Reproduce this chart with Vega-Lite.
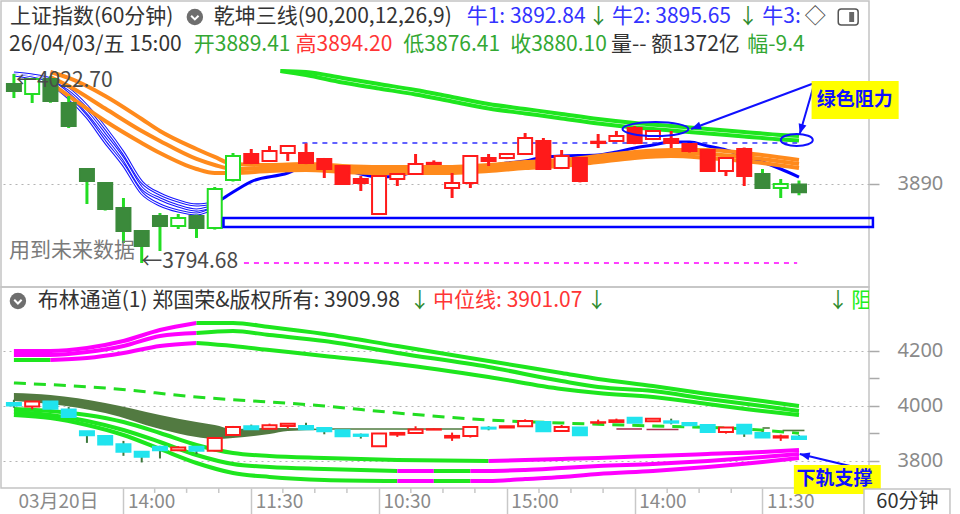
{
"$schema": "https://vega.github.io/schema/vega-lite/v6.json",
"padding": 0,
"spacing": 0,
"bounds": "flush",
"background": "white",
"config": {
 "view": {"stroke": "#c4c4c4", "strokeWidth": 1.5},
 "font": "Noto Sans CJK SC",
 "axisRight": {"grid": true, "gridColor": "#b4b4b4", "gridDash": [2, 4], "gridWidth": 1.2, "domain": false, "tickSize": 10, "tickColor": "#aaaaaa", "tickWidth": 1.5, "labelPadding": 18, "labelColor": "#8a8a8a", "labelFontSize": 20, "labelFont": "Noto Sans"},
 "axisBottom": {"labelAlign": "left", "labelOffset": 4, "labelBaseline": "middle", "labelPadding": -14, "labelFlush": false, "labelOverlap": false, "labelBound": false, "tickSize": 27, "tickWidth": 1.5, "domain": false, "grid": false, "labelColor": "#8a8a8a", "labelFontSize": 19, "labelFont": "Noto Sans CJK SC"}
},
"resolve": {"scale": {"x": "independent", "y": "independent", "color": "independent"}, "axis": {"x": "independent", "y": "independent"}},
"datasets": {
"candles": [
{"i":0,"o":4010.6,"h":4022.7,"l":3993.7,"c":4002.2,"sig":"bear"},
{"i":1,"o":3998.5,"h":4018.0,"l":3987.7,"c":4016.6,"sig":"bear"},
{"i":2,"o":4016.6,"h":4020.0,"l":3988.0,"c":3990.1,"sig":"bear"},
{"i":3,"o":3987.7,"h":3996.0,"l":3957.5,"c":3960.0,"sig":"bear"},
{"i":4,"o":3908.0,"h":3909.0,"l":3865.9,"c":3893.6,"sig":"bear"},
{"i":5,"o":3891.2,"h":3892.0,"l":3858.0,"c":3859.8,"sig":"bear"},
{"i":6,"o":3861.0,"h":3873.1,"l":3818.8,"c":3833.3,"sig":"bear"},
{"i":7,"o":3833.3,"h":3834.0,"l":3794.68,"c":3815.2,"sig":"bear"},
{"i":8,"o":3851.4,"h":3855.0,"l":3809.2,"c":3839.3,"sig":"bear"},
{"i":9,"o":3839.3,"h":3853.8,"l":3835.7,"c":3849.0,"sig":"bear"},
{"i":10,"o":3851.4,"h":3853.0,"l":3824.9,"c":3836.9,"sig":"bear"},
{"i":11,"o":3836.9,"h":3886.4,"l":3835.0,"c":3884.0,"sig":"bear"},
{"i":12,"o":3894.8,"h":3927.4,"l":3893.0,"c":3923.8,"sig":"bear"},
{"i":13,"o":3926.2,"h":3932.2,"l":3914.0,"c":3915.3,"sig":"bull"},
{"i":14,"o":3917.7,"h":3935.8,"l":3917.0,"c":3929.8,"sig":"bull"},
{"i":15,"o":3927.4,"h":3936.5,"l":3917.7,"c":3935.8,"sig":"bull"},
{"i":16,"o":3927.4,"h":3939.0,"l":3914.0,"c":3915.3,"sig":"bull"},
{"i":17,"o":3920.2,"h":3921.4,"l":3897.2,"c":3908.1,"sig":"bull"},
{"i":18,"o":3911.7,"h":3912.0,"l":3889.0,"c":3890.0,"sig":"bull"},
{"i":19,"o":3896.0,"h":3899.6,"l":3881.6,"c":3891.2,"sig":"bull"},
{"i":20,"o":3853.8,"h":3900.0,"l":3853.0,"c":3899.6,"sig":"bull"},
{"i":21,"o":3896.0,"h":3902.5,"l":3887.6,"c":3902.0,"sig":"bull"},
{"i":22,"o":3902.0,"h":3926.2,"l":3901.0,"c":3914.1,"sig":"bull"},
{"i":23,"o":3914.1,"h":3918.5,"l":3913.0,"c":3915.5,"sig":"bull"},
{"i":24,"o":3885.2,"h":3903.3,"l":3873.1,"c":3891.2,"sig":"bull"},
{"i":25,"o":3891.2,"h":3924.5,"l":3885.2,"c":3923.8,"sig":"bull"},
{"i":26,"o":3921.4,"h":3926.2,"l":3911.7,"c":3917.7,"sig":"bull"},
{"i":27,"o":3921.4,"h":3927.0,"l":3920.0,"c":3926.2,"sig":"bull"},
{"i":28,"o":3926.2,"h":3951.5,"l":3925.0,"c":3945.5,"sig":"bull"},
{"i":29,"o":3941.9,"h":3945.5,"l":3907.0,"c":3908.1,"sig":"bull"},
{"i":30,"o":3909.3,"h":3931.0,"l":3908.0,"c":3923.8,"sig":"bull"},
{"i":31,"o":3921.4,"h":3922.0,"l":3892.0,"c":3893.6,"sig":"bull"},
{"i":32,"o":3939.4,"h":3950.3,"l":3933.4,"c":3941.0,"sig":"bull"},
{"i":33,"o":3941.9,"h":3954.0,"l":3941.0,"c":3947.9,"sig":"bull"},
{"i":34,"o":3957.5,"h":3960.0,"l":3938.0,"c":3939.4,"sig":"bull"},
{"i":35,"o":3944.3,"h":3955.0,"l":3943.0,"c":3953.9,"sig":"bull"},
{"i":36,"o":3944.3,"h":3953.9,"l":3933.4,"c":3939.4,"sig":"bull"},
{"i":37,"o":3938.2,"h":3939.0,"l":3928.0,"c":3929.8,"sig":"bull"},
{"i":38,"o":3931.0,"h":3932.0,"l":3905.0,"c":3905.7,"sig":"bull"},
{"i":39,"o":3905.7,"h":3922.0,"l":3899.6,"c":3921.4,"sig":"bull"},
{"i":40,"o":3932.2,"h":3934.0,"l":3887.6,"c":3899.6,"sig":"bull"},
{"i":41,"o":3902.0,"h":3908.1,"l":3884.0,"c":3885.2,"sig":"bear"},
{"i":42,"o":3885.2,"h":3896.0,"l":3873.1,"c":3890.0,"sig":"bear"},
{"i":43,"o":3889.41,"h":3894.20,"l":3876.41,"c":3880.10,"sig":"bear"}
],
"orange": [
{"s":"o1","i":2,"v":4025.1},{"s":"o1","i":3,"v":4017.9},{"s":"o1","i":5,"v":3996.2},{"s":"o1","i":7,"v":3968.4},{"s":"o1","i":8,"v":3953.9},{"s":"o1","i":10,"v":3932.2},{"s":"o1","i":11,"v":3922.6},{"s":"o1","i":12,"v":3914.1},{"s":"o1","i":14,"v":3912.9},{"s":"o1","i":16,"v":3914.1},{"s":"o1","i":18,"v":3911.7},{"s":"o1","i":20,"v":3910.5},{"s":"o1","i":22,"v":3910.5},{"s":"o1","i":24,"v":3910.5},{"s":"o1","i":26,"v":3912.9},{"s":"o1","i":28,"v":3916.5},{"s":"o1","i":30,"v":3919.0},{"s":"o1","i":32,"v":3923.8},{"s":"o1","i":34,"v":3928.6},{"s":"o1","i":36,"v":3931.0},{"s":"o1","i":38,"v":3931.0},{"s":"o1","i":40,"v":3927.4},{"s":"o1","i":43,"v":3919.0},
{"s":"o2","i":2,"v":4019.1},{"s":"o2","i":3,"v":4008.2},{"s":"o2","i":5,"v":3981.0},{"s":"o2","i":7,"v":3953.9},{"s":"o2","i":8,"v":3941.9},{"s":"o2","i":10,"v":3920.2},{"s":"o2","i":11,"v":3912.9},{"s":"o2","i":12,"v":3908.1},{"s":"o2","i":14,"v":3909.3},{"s":"o2","i":16,"v":3910.5},{"s":"o2","i":18,"v":3908.1},{"s":"o2","i":20,"v":3906.9},{"s":"o2","i":22,"v":3906.9},{"s":"o2","i":24,"v":3906.9},{"s":"o2","i":26,"v":3909.3},{"s":"o2","i":28,"v":3912.9},{"s":"o2","i":30,"v":3915.3},{"s":"o2","i":32,"v":3920.2},{"s":"o2","i":34,"v":3925.0},{"s":"o2","i":36,"v":3927.4},{"s":"o2","i":38,"v":3926.2},{"s":"o2","i":40,"v":3922.6},{"s":"o2","i":43,"v":3914.1},
{"s":"o3","i":2,"v":4011.8},{"s":"o3","i":3,"v":3996.2},{"s":"o3","i":5,"v":3966.0},{"s":"o3","i":7,"v":3939.5},{"s":"o3","i":8,"v":3927.4},{"s":"o3","i":10,"v":3908.1},{"s":"o3","i":11,"v":3903.3},{"s":"o3","i":12,"v":3903.3},{"s":"o3","i":14,"v":3905.7},{"s":"o3","i":16,"v":3906.9},{"s":"o3","i":18,"v":3904.5},{"s":"o3","i":20,"v":3903.3},{"s":"o3","i":22,"v":3903.3},{"s":"o3","i":24,"v":3903.3},{"s":"o3","i":26,"v":3905.7},{"s":"o3","i":28,"v":3909.3},{"s":"o3","i":30,"v":3911.7},{"s":"o3","i":32,"v":3916.5},{"s":"o3","i":34,"v":3921.4},{"s":"o3","i":36,"v":3923.8},{"s":"o3","i":38,"v":3921.4},{"s":"o3","i":40,"v":3917.7},{"s":"o3","i":43,"v":3909.3}
],
"bthin": [
{"s":"b1","i":0,"v":4023.9},{"s":"b1","i":1,"v":4021.5},{"s":"b1","i":2,"v":4016.7},{"s":"b1","i":3,"v":4004.6},{"s":"b1","i":4,"v":3984.1},{"s":"b1","i":5,"v":3957.6},{"s":"b1","i":6,"v":3927.4},{"s":"b1","i":7,"v":3892.4},{"s":"b1","i":8,"v":3877.9},{"s":"b1","i":9,"v":3869.5},{"s":"b1","i":10,"v":3864.7},{"s":"b1","i":10.6,"v":3865.9},
{"s":"b2","i":0,"v":4022.7},{"s":"b2","i":1,"v":4020.3},{"s":"b2","i":2,"v":4014.2},{"s":"b2","i":3,"v":3998.6},{"s":"b2","i":4,"v":3976.9},{"s":"b2","i":5,"v":3949.1},{"s":"b2","i":6,"v":3920.2},{"s":"b2","i":7,"v":3885.2},{"s":"b2","i":8,"v":3871.9},{"s":"b2","i":9,"v":3863.5},{"s":"b2","i":10,"v":3858.6},{"s":"b2","i":10.6,"v":3861.0},
{"s":"b3","i":0,"v":4021.5},{"s":"b3","i":1,"v":4017.9},{"s":"b3","i":2,"v":4010.6},{"s":"b3","i":3,"v":3993.7},{"s":"b3","i":4,"v":3970.8},{"s":"b3","i":5,"v":3940.7},{"s":"b3","i":6,"v":3912.9},{"s":"b3","i":7,"v":3879.1},{"s":"b3","i":8,"v":3864.7},{"s":"b3","i":9,"v":3857.4},{"s":"b3","i":10,"v":3853.8},{"s":"b3","i":10.6,"v":3857.4}
],
"bthick": [
{"i":10.6,"v":3861.0},{"i":11.5,"v":3873.1},{"i":13,"v":3893.0},{"i":15,"v":3903.3},{"i":16,"v":3912.0},{"i":17,"v":3913.5},{"i":18,"v":3908.1},{"i":19,"v":3902.1},{"i":20,"v":3898.4},{"i":21,"v":3899.7},{"i":22,"v":3904.5},{"i":24,"v":3905.7},{"i":26,"v":3911.7},{"i":27,"v":3915.3},{"i":28,"v":3917.7},{"i":29,"v":3922.6},{"i":30,"v":3923.8},{"i":32,"v":3925.0},{"i":33,"v":3928.6},{"i":34,"v":3933.4},{"i":35,"v":3937.0},{"i":36,"v":3940.7},{"i":37,"v":3940.7},{"i":38,"v":3935.8},{"i":39,"v":3931.0},{"i":40,"v":3923.8},{"i":41,"v":3916.5},{"i":42,"v":3908.1},{"i":43,"v":3898.4}
],
"gband": [
{"s":"g1","i":14.6,"v":4026.3},{"s":"g1","i":16,"v":4025.1},{"s":"g1","i":18,"v":4017.9},{"s":"g1","i":20,"v":4010.6},{"s":"g1","i":22,"v":4003.4},{"s":"g1","i":24,"v":3995.0},{"s":"g1","i":26,"v":3986.5},{"s":"g1","i":28,"v":3980.5},{"s":"g1","i":30,"v":3974.5},{"s":"g1","i":32,"v":3968.4},{"s":"g1","i":34,"v":3963.6},{"s":"g1","i":36,"v":3960.0},{"s":"g1","i":38,"v":3956.3},{"s":"g1","i":40,"v":3952.7},{"s":"g1","i":42,"v":3949.1},{"s":"g1","i":43,"v":3947.9},
{"s":"g2","i":14.6,"v":4026.3},{"s":"g2","i":16,"v":4021.5},{"s":"g2","i":18,"v":4012.5},{"s":"g2","i":20,"v":4005.2},{"s":"g2","i":22,"v":3998.0},{"s":"g2","i":24,"v":3989.6},{"s":"g2","i":26,"v":3981.1},{"s":"g2","i":28,"v":3975.1},{"s":"g2","i":30,"v":3969.1},{"s":"g2","i":32,"v":3963.0},{"s":"g2","i":34,"v":3958.2},{"s":"g2","i":36,"v":3954.6},{"s":"g2","i":38,"v":3950.9},{"s":"g2","i":40,"v":3947.3},{"s":"g2","i":42,"v":3943.7},{"s":"g2","i":43,"v":3942.5}
],
"upper": [
{"s":"u1a","c":"m","i":0,"v":4200.0},{"s":"u1a","c":"m","i":2,"v":4200.0},{"s":"u1a","c":"m","i":4,"v":4210.9},{"s":"u1a","c":"m","i":6,"v":4236.3},{"s":"u1a","c":"m","i":8,"v":4276.3},{"s":"u1a","c":"m","i":10,"v":4301.8},
{"s":"u1b","c":"g","i":10,"v":4301.8},{"s":"u1b","c":"g","i":12,"v":4301.8},{"s":"u1b","c":"g","i":14,"v":4287.2},{"s":"u1b","c":"g","i":17,"v":4261.8},{"s":"u1b","c":"g","i":21,"v":4218.1},{"s":"u1b","c":"g","i":26,"v":4163.6},{"s":"u1b","c":"g","i":30,"v":4120.0},{"s":"u1b","c":"g","i":32,"v":4098.2},{"s":"u1b","c":"g","i":35,"v":4072.7},{"s":"u1b","c":"g","i":38,"v":4043.6},{"s":"u1b","c":"g","i":41,"v":4018.2},{"s":"u1b","c":"g","i":43,"v":4000.0},
{"s":"u2a","c":"m","i":0,"v":4185.4},{"s":"u2a","c":"m","i":2,"v":4185.4},{"s":"u2a","c":"m","i":4,"v":4196.3},{"s":"u2a","c":"m","i":6,"v":4218.1},{"s":"u2a","c":"m","i":8,"v":4254.5},{"s":"u2a","c":"m","i":10,"v":4265.4},
{"s":"u2b","c":"g","i":10,"v":4265.4},{"s":"u2b","c":"g","i":12,"v":4272.7},{"s":"u2b","c":"g","i":14,"v":4258.1},{"s":"u2b","c":"g","i":17,"v":4236.3},{"s":"u2b","c":"g","i":21,"v":4192.7},{"s":"u2b","c":"g","i":26,"v":4141.8},{"s":"u2b","c":"g","i":30,"v":4090.9},{"s":"u2b","c":"g","i":32,"v":4069.1},{"s":"u2b","c":"g","i":35,"v":4054.5},{"s":"u2b","c":"g","i":38,"v":4025.4},{"s":"u2b","c":"g","i":41,"v":4000.0},{"s":"u2b","c":"g","i":43,"v":3981.8},
{"s":"u3a","c":"g","i":0,"v":4167.2},{"s":"u3a","c":"g","i":2,"v":4167.2},
{"s":"u3b","c":"m","i":2,"v":4167.2},{"s":"u3b","c":"m","i":4,"v":4174.5},{"s":"u3b","c":"m","i":6,"v":4192.7},{"s":"u3b","c":"m","i":8,"v":4218.1},{"s":"u3b","c":"m","i":10,"v":4229.0},
{"s":"u3c","c":"g","i":10,"v":4229.0},{"s":"u3c","c":"g","i":12,"v":4218.1},{"s":"u3c","c":"g","i":14,"v":4203.6},{"s":"u3c","c":"g","i":17,"v":4181.8},{"s":"u3c","c":"g","i":21,"v":4152.7},{"s":"u3c","c":"g","i":26,"v":4105.4},{"s":"u3c","c":"g","i":30,"v":4061.8},{"s":"u3c","c":"g","i":32,"v":4047.2},{"s":"u3c","c":"g","i":35,"v":4032.7},{"s":"u3c","c":"g","i":38,"v":4007.3},{"s":"u3c","c":"g","i":41,"v":3981.8},{"s":"u3c","c":"g","i":43,"v":3967.3}
],
"lower": [
{"s":"l1a","c":"g","i":0,"v":3989.1},{"s":"l1a","c":"g","i":2,"v":3981.8},{"s":"l1a","c":"g","i":4,"v":3967.3},{"s":"l1a","c":"g","i":6,"v":3941.8},{"s":"l1a","c":"g","i":8,"v":3901.8},{"s":"l1a","c":"g","i":10,"v":3858.2},{"s":"l1a","c":"g","i":12,"v":3829.1},{"s":"l1a","c":"g","i":14,"v":3818.2},{"s":"l1a","c":"g","i":17,"v":3810.9},{"s":"l1a","c":"g","i":21,"v":3803.6},{"s":"l1a","c":"g","i":26,"v":3800.0},
{"s":"l1b","c":"m","i":26,"v":3800.0},{"s":"l1b","c":"m","i":28,"v":3803.6},{"s":"l1b","c":"m","i":30,"v":3807.3},{"s":"l1b","c":"m","i":32,"v":3810.9},{"s":"l1b","c":"m","i":35,"v":3818.2},{"s":"l1b","c":"m","i":38,"v":3825.5},{"s":"l1b","c":"m","i":41,"v":3832.7},{"s":"l1b","c":"m","i":43,"v":3840.0},
{"s":"l2a","c":"g","i":0,"v":3978.2},{"s":"l2a","c":"g","i":2,"v":3967.3},{"s":"l2a","c":"g","i":4,"v":3945.4},{"s":"l2a","c":"g","i":6,"v":3912.7},{"s":"l2a","c":"g","i":8,"v":3869.1},{"s":"l2a","c":"g","i":10,"v":3821.8},{"s":"l2a","c":"g","i":12,"v":3789.1},{"s":"l2a","c":"g","i":14,"v":3778.2},{"s":"l2a","c":"g","i":17,"v":3770.9},{"s":"l2a","c":"g","i":21,"v":3763.6},
{"s":"l2b","c":"m","i":21,"v":3763.6},{"s":"l2b","c":"m","i":23,"v":3763.6},
{"s":"l2c","c":"g","i":23,"v":3763.6},{"s":"l2c","c":"g","i":25,"v":3763.6},
{"s":"l2d","c":"m","i":25,"v":3763.6},{"s":"l2d","c":"m","i":26,"v":3763.6},{"s":"l2d","c":"m","i":28,"v":3767.3},{"s":"l2d","c":"m","i":30,"v":3774.5},{"s":"l2d","c":"m","i":32,"v":3781.8},{"s":"l2d","c":"m","i":35,"v":3789.1},{"s":"l2d","c":"m","i":38,"v":3800.0},{"s":"l2d","c":"m","i":41,"v":3814.5},{"s":"l2d","c":"m","i":43,"v":3825.5},
{"s":"l3a","c":"g","i":0,"v":3967.3},{"s":"l3a","c":"g","i":2,"v":3956.3},{"s":"l3a","c":"g","i":4,"v":3930.9},{"s":"l3a","c":"g","i":6,"v":3894.5},{"s":"l3a","c":"g","i":8,"v":3843.6},{"s":"l3a","c":"g","i":10,"v":3792.7},{"s":"l3a","c":"g","i":12,"v":3756.4},{"s":"l3a","c":"g","i":14,"v":3741.8},{"s":"l3a","c":"g","i":17,"v":3730.9},{"s":"l3a","c":"g","i":21,"v":3727.3},
{"s":"l3b","c":"m","i":21,"v":3727.3},{"s":"l3b","c":"m","i":23,"v":3727.3},
{"s":"l3c","c":"g","i":23,"v":3727.3},{"s":"l3c","c":"g","i":25,"v":3727.3},
{"s":"l3d","c":"m","i":25,"v":3727.3},{"s":"l3d","c":"m","i":26,"v":3727.3},{"s":"l3d","c":"m","i":28,"v":3734.5},{"s":"l3d","c":"m","i":30,"v":3741.8},{"s":"l3d","c":"m","i":32,"v":3752.7},{"s":"l3d","c":"m","i":35,"v":3763.6},{"s":"l3d","c":"m","i":38,"v":3778.2},{"s":"l3d","c":"m","i":41,"v":3796.4},{"s":"l3d","c":"m","i":43,"v":3810.9}
],
"mid": [
{"i":0,"v":4083.6},{"i":5,"v":4065.4},{"i":10,"v":4032.7},{"i":17,"v":4000.0},{"i":21,"v":3974.5},{"i":26,"v":3949.1},{"i":30,"v":3938.2},{"i":35,"v":3927.3},{"i":40,"v":3916.4},{"i":43,"v":3901.0}
],
"ribbon": [
{"i":0,"hi":4047.2,"lo":4018.2},{"i":2,"hi":4040.0,"lo":4007.3},{"i":5,"hi":4010.9,"lo":3974.5},{"i":8,"hi":3967.3,"lo":3916.4},{"i":10,"hi":3941.8,"lo":3887.3},{"i":11,"hi":3930.9,"lo":3880.0},{"i":12,"hi":3916.4,"lo":3883.6},{"i":14,"hi":3920.0,"lo":3898.2},{"i":15,"hi":3920.0,"lo":3909.1},{"i":17,"hi":3916.4,"lo":3912.7}
],
"minorticks": [
{"i":7.71},{"i":9.46},{"i":11.22},{"i":14.73},{"i":16.48},{"i":18.24},{"i":21.74},{"i":23.50},{"i":25.25},{"i":28.76},{"i":30.51},{"i":32.27},{"i":35.78},{"i":37.53},{"i":39.29},{"i":42.79},{"i":44.55}
]
},
"vconcat": [
{
"width": 868, "height": 286,
"layer": [
{"data": {"name": "gband"}, "mark": {"type": "line", "color": "#1ee61e", "strokeWidth": 4, "interpolate": "monotone"},
 "encoding": {"x": {"field": "i", "type": "quantitative", "scale": {"domain": [-0.4331, 46.561], "nice": false, "zero": false}, "axis": null},
  "y": {"field": "v", "type": "quantitative", "scale": {"domain": [3765.75, 4110.75], "nice": false, "zero": false}, "axis": {"orient": "right", "values": [3890], "format": "d", "title": null}},
  "detail": {"field": "s"}}},
{"data": {"name": "bthin"}, "mark": {"type": "line", "color": "#1414ff", "strokeWidth": 3.2, "interpolate": "monotone"},
 "encoding": {"x": {"field": "i", "type": "quantitative", "scale": {"domain": [-0.4331, 46.561], "nice": false, "zero": false}, "axis": null},
  "y": {"field": "v", "type": "quantitative", "scale": {"domain": [3765.75, 4110.75], "nice": false, "zero": false}, "axis": {"orient": "right", "values": [3890], "format": "d", "title": null}}, "detail": {"field": "s"}}},
{"data": {"name": "bthin"}, "mark": {"type": "line", "color": "#ffffff", "strokeWidth": 1.1, "interpolate": "monotone"},
 "encoding": {"x": {"field": "i", "type": "quantitative", "scale": {"domain": [-0.4331, 46.561], "nice": false, "zero": false}, "axis": null},
  "y": {"field": "v", "type": "quantitative", "scale": {"domain": [3765.75, 4110.75], "nice": false, "zero": false}, "axis": {"orient": "right", "values": [3890], "format": "d", "title": null}}, "detail": {"field": "s"}}},
{"data": {"name": "bthick"}, "mark": {"type": "line", "color": "#0000ff", "strokeWidth": 3, "interpolate": "monotone"},
 "encoding": {"x": {"field": "i", "type": "quantitative", "scale": {"domain": [-0.4331, 46.561], "nice": false, "zero": false}, "axis": null},
  "y": {"field": "v", "type": "quantitative", "scale": {"domain": [3765.75, 4110.75], "nice": false, "zero": false}, "axis": {"orient": "right", "values": [3890], "format": "d", "title": null}}}},
{"data": {"name": "orange"}, "mark": {"type": "line", "color": "#ff8a1c", "strokeWidth": 4, "interpolate": "monotone"},
 "encoding": {"x": {"field": "i", "type": "quantitative", "scale": {"domain": [-0.4331, 46.561], "nice": false, "zero": false}, "axis": null},
  "y": {"field": "v", "type": "quantitative", "scale": {"domain": [3765.75, 4110.75], "nice": false, "zero": false}, "axis": {"orient": "right", "values": [3890], "format": "d", "title": null}}, "detail": {"field": "s"}}},
{"data": {"values": [{"i": 15.8, "i2": 42.9, "v": 3939.4}]}, "mark": {"type": "rule", "color": "#3030ff", "strokeWidth": 1.6, "strokeDash": [5, 5]},
 "encoding": {"x": {"field": "i", "type": "quantitative", "scale": {"domain": [-0.4331, 46.561], "nice": false, "zero": false}, "axis": null}, "x2": {"field": "i2"},
  "y": {"field": "v", "type": "quantitative", "scale": {"domain": [3765.75, 4110.75], "nice": false, "zero": false}, "axis": {"orient": "right", "values": [3890], "format": "d", "title": null}}}},
{"data": {"values": [{"i": 12.6, "i2": 42.9, "v": 3794.7}]}, "mark": {"type": "rule", "color": "#ff00ff", "strokeWidth": 1.6, "strokeDash": [5, 5]},
 "encoding": {"x": {"field": "i", "type": "quantitative", "scale": {"domain": [-0.4331, 46.561], "nice": false, "zero": false}, "axis": null}, "x2": {"field": "i2"},
  "y": {"field": "v", "type": "quantitative", "scale": {"domain": [3765.75, 4110.75], "nice": false, "zero": false}, "axis": {"orient": "right", "values": [3890], "format": "d", "title": null}}}},
{"data": {"name": "candles"}, "mark": {"type": "rule", "strokeWidth": 3},
 "encoding": {"x": {"field": "i", "type": "quantitative", "scale": {"domain": [-0.4331, 46.561], "nice": false, "zero": false}, "axis": null},
  "y": {"field": "l", "type": "quantitative", "scale": {"domain": [3765.75, 4110.75], "nice": false, "zero": false}, "axis": {"orient": "right", "values": [3890], "format": "d", "title": null}}, "y2": {"field": "h"},
  "color": {"condition": {"test": "datum.sig == 'bear'", "value": "#22dd22"}, "value": "#ff1a1a"}}},
{"data": {"name": "candles"}, "mark": {"type": "bar", "size": 14, "strokeWidth": 2},
 "encoding": {"x": {"field": "i", "type": "quantitative", "scale": {"domain": [-0.4331, 46.561], "nice": false, "zero": false}, "axis": null},
  "y": {"field": "o", "type": "quantitative", "scale": {"domain": [3765.75, 4110.75], "nice": false, "zero": false}, "axis": {"orient": "right", "values": [3890], "format": "d", "title": null}}, "y2": {"field": "c"},
  "fill": {"condition": [{"test": "datum.c >= datum.o", "value": "#ffffff"}, {"test": "datum.sig == 'bear'", "value": "#3b8a3b"}], "value": "#ff1a1a"},
  "stroke": {"condition": [{"test": "datum.sig == 'bear' && datum.c < datum.o", "value": "#3b8a3b"}, {"test": "datum.sig == 'bear'", "value": "#22dd22"}], "value": "#ff1a1a"}}},
{"data": {"values": [{"i": 11.48, "i2": 47.05, "v": 3849.0, "v2": 3838.1}]}, "mark": {"type": "rect", "fill": "transparent", "stroke": "#0000ff", "strokeWidth": 2.5},
 "encoding": {"x": {"field": "i", "type": "quantitative", "scale": {"domain": [-0.4331, 46.561], "nice": false, "zero": false}, "axis": null}, "x2": {"field": "i2"},
  "y": {"field": "v", "type": "quantitative", "scale": {"domain": [3765.75, 4110.75], "nice": false, "zero": false}, "axis": {"orient": "right", "values": [3890], "format": "d", "title": null}}, "y2": {"field": "v2"}}},
{"data": {"values": [{"i": 35.14, "v": 3956.3}]}, "mark": {"type": "point", "shape": "M -1 0 A 1 0.21 0 1 0 1 0 A 1 0.21 0 1 0 -1 0 Z", "size": 4356, "filled": false, "color": "#1010ff", "strokeWidth": 2, "opacity": 1},
 "encoding": {"x": {"field": "i", "type": "quantitative", "scale": {"domain": [-0.4331, 46.561], "nice": false, "zero": false}, "axis": null},
  "y": {"field": "v", "type": "quantitative", "scale": {"domain": [3765.75, 4110.75], "nice": false, "zero": false}, "axis": {"orient": "right", "values": [3890], "format": "d", "title": null}}}},
{"data": {"values": [{"i": 42.88, "v": 3943.1}]}, "mark": {"type": "point", "shape": "M -1 0 A 1 0.375 0 1 0 1 0 A 1 0.375 0 1 0 -1 0 Z", "size": 1024, "filled": false, "color": "#1010ff", "strokeWidth": 2, "opacity": 1},
 "encoding": {"x": {"field": "i", "type": "quantitative", "scale": {"domain": [-0.4331, 46.561], "nice": false, "zero": false}, "axis": null},
  "y": {"field": "v", "type": "quantitative", "scale": {"domain": [3765.75, 4110.75], "nice": false, "zero": false}, "axis": {"orient": "right", "values": [3890], "format": "d", "title": null}}}},
{"data": {"values": [{"i": 43.85, "v": 4011.8, "i2": 37.09, "v2": 3956.3}, {"i": 43.85, "v": 4011.8, "i2": 43.04, "v2": 3950.3}]}, "mark": {"type": "rule", "color": "#1010ff", "strokeWidth": 2},
 "encoding": {"x": {"field": "i", "type": "quantitative", "scale": {"domain": [-0.4331, 46.561], "nice": false, "zero": false}, "axis": null}, "x2": {"field": "i2"},
  "y": {"field": "v", "type": "quantitative", "scale": {"domain": [3765.75, 4110.75], "nice": false, "zero": false}, "axis": {"orient": "right", "values": [3890], "format": "d", "title": null}}, "y2": {"field": "v2"}}},
{"data": {"values": [{"i": 37.09, "v": 3956.3}]}, "mark": {"type": "point", "shape": "M0,0 L0.8,2 L-0.8,2 Z", "size": 100, "filled": true, "color": "#1010ff", "angle": 249.8, "opacity": 1},
 "encoding": {"x": {"field": "i", "type": "quantitative", "scale": {"domain": [-0.4331, 46.561], "nice": false, "zero": false}, "axis": null},
  "y": {"field": "v", "type": "quantitative", "scale": {"domain": [3765.75, 4110.75], "nice": false, "zero": false}, "axis": {"orient": "right", "values": [3890], "format": "d", "title": null}}}},
{"data": {"values": [{"i": 43.04, "v": 3950.3}]}, "mark": {"type": "point", "shape": "M0,0 L0.8,2 L-0.8,2 Z", "size": 100, "filled": true, "color": "#1010ff", "angle": 196.4, "opacity": 1},
 "encoding": {"x": {"field": "i", "type": "quantitative", "scale": {"domain": [-0.4331, 46.561], "nice": false, "zero": false}, "axis": null},
  "y": {"field": "v", "type": "quantitative", "scale": {"domain": [3765.75, 4110.75], "nice": false, "zero": false}, "axis": {"orient": "right", "values": [3890], "format": "d", "title": null}}}},
{"data": {"values": [{"i": 43.69, "i2": 48.46, "v": 4014.2, "v2": 3968.4}]}, "mark": {"type": "rect", "fill": "#ffff00"},
 "encoding": {"x": {"field": "i", "type": "quantitative", "scale": {"domain": [-0.4331, 46.561], "nice": false, "zero": false}, "axis": null}, "x2": {"field": "i2"},
  "y": {"field": "v", "type": "quantitative", "scale": {"domain": [3765.75, 4110.75], "nice": false, "zero": false}, "axis": {"orient": "right", "values": [3890], "format": "d", "title": null}}, "y2": {"field": "v2"}}},
{"data": {"values": [{"i": 46.05, "v": 3991.3, "t": "绿色阻力"}]}, "mark": {"type": "text", "align": "center", "baseline": "middle", "fontSize": 19, "fontWeight": "bold", "color": "#1010ff", "font": "Noto Sans CJK SC"},
 "encoding": {"x": {"field": "i", "type": "quantitative", "scale": {"domain": [-0.4331, 46.561], "nice": false, "zero": false}, "axis": null},
  "y": {"field": "v", "type": "quantitative", "scale": {"domain": [3765.75, 4110.75], "nice": false, "zero": false}, "axis": {"orient": "right", "values": [3890], "format": "d", "title": null}}, "text": {"field": "t"}}},
{"data": {"values": [{"i": 9.91, "v": 4091.5}]}, "mark": {"type": "point", "shape": "circle", "size": 270, "filled": true, "color": "#6e6e6e", "opacity": 1},
 "encoding": {"x": {"field": "i", "type": "quantitative", "scale": {"domain": [-0.4331, 46.561], "nice": false, "zero": false}, "axis": null},
  "y": {"field": "v", "type": "quantitative", "scale": {"domain": [3765.75, 4110.75], "nice": false, "zero": false}, "axis": {"orient": "right", "values": [3890], "format": "d", "title": null}}}},
{"data": {"values": [{"i": 9.91, "v": 4091.5}]}, "mark": {"type": "point", "shape": "M-0.45,-0.15 L0,0.3 L0.45,-0.15", "size": 270, "filled": false, "color": "#ffffff", "strokeWidth": 2, "opacity": 1},
 "encoding": {"x": {"field": "i", "type": "quantitative", "scale": {"domain": [-0.4331, 46.561], "nice": false, "zero": false}, "axis": null},
  "y": {"field": "v", "type": "quantitative", "scale": {"domain": [3765.75, 4110.75], "nice": false, "zero": false}, "axis": {"orient": "right", "values": [3890], "format": "d", "title": null}}}},
{"data": {"values": [{"i": 45.15, "i2": 46.24, "v": 4101.1, "v2": 4081.8}]}, "mark": {"type": "rect", "fill": "transparent", "stroke": "#555555", "strokeWidth": 1.5, "cornerRadius": 3},
 "encoding": {"x": {"field": "i", "type": "quantitative", "scale": {"domain": [-0.4331, 46.561], "nice": false, "zero": false}, "axis": null}, "x2": {"field": "i2"},
  "y": {"field": "v", "type": "quantitative", "scale": {"domain": [3765.75, 4110.75], "nice": false, "zero": false}, "axis": {"orient": "right", "values": [3890], "format": "d", "title": null}}, "y2": {"field": "v2"}}},
{"data": {"values": [{"i": 45.75, "i2": 46.02, "v": 4097.5, "v2": 4085.4}]}, "mark": {"type": "rect", "fill": "#666666"},
 "encoding": {"x": {"field": "i", "type": "quantitative", "scale": {"domain": [-0.4331, 46.561], "nice": false, "zero": false}, "axis": null}, "x2": {"field": "i2"},
  "y": {"field": "v", "type": "quantitative", "scale": {"domain": [3765.75, 4110.75], "nice": false, "zero": false}, "axis": {"orient": "right", "values": [3890], "format": "d", "title": null}}, "y2": {"field": "v2"}}},
{"data": {"values": [
  {"i": -0.22, "v": 4091.5, "t": "上证指数(60分钟)", "k": "dark"},
  {"i": 10.94, "v": 4091.5, "t": "乾坤三线(90,200,12,26,9)", "k": "dark"},
  {"i": 24.80, "v": 4091.5, "t": "牛1: 3892.84", "k": "blue"},
  {"i": 31.45, "v": 4091.5, "t": "↓", "k": "arrow"},
  {"i": 32.76, "v": 4091.5, "t": "牛2: 3895.65", "k": "blue"},
  {"i": 39.63, "v": 4091.5, "t": "↓", "k": "arrow"},
  {"i": 40.99, "v": 4091.5, "t": "牛3:", "k": "blue"},
  {"i": 43.31, "v": 4091.5, "t": "◇", "k": "mid"},
  {"i": -0.27, "v": 4057.7, "t": "26/04/03/五 15:00", "k": "dark"},
  {"i": 9.85, "v": 4057.7, "t": "开3889.41", "k": "green"},
  {"i": 15.43, "v": 4057.7, "t": "高3894.20", "k": "red"},
  {"i": 21.33, "v": 4057.7, "t": "低3876.41", "k": "green"},
  {"i": 27.18, "v": 4057.7, "t": "收3880.10", "k": "green"},
  {"i": 32.70, "v": 4057.7, "t": "量-- 额1372亿", "k": "dark"},
  {"i": 40.17, "v": 4057.7, "t": "幅-9.4", "k": "green"},
  {"i": 0.11, "v": 4014.2, "t": "←4022.70", "k": "mid"},
  {"i": -0.27, "v": 3809.2, "t": "用到未来数据", "k": "gray"},
  {"i": 6.98, "v": 3795.9, "t": "←3794.68", "k": "mid"}
 ]},
 "mark": {"type": "text", "align": "left", "baseline": "middle", "fontSize": 21, "font": "Noto Sans CJK SC"},
 "encoding": {"x": {"field": "i", "type": "quantitative", "scale": {"domain": [-0.4331, 46.561], "nice": false, "zero": false}, "axis": null},
  "y": {"field": "v", "type": "quantitative", "scale": {"domain": [3765.75, 4110.75], "nice": false, "zero": false}, "axis": {"orient": "right", "values": [3890], "format": "d", "title": null}},
  "text": {"field": "t"},
  "color": {"condition": [{"test": "datum.k == 'green'", "value": "#33a833"}, {"test": "datum.k == 'red'", "value": "#ff3535"}, {"test": "datum.k == 'blue'", "value": "#3333ff"}, {"test": "datum.k == 'arrow'", "value": "#2e8b2e"}, {"test": "datum.k == 'gray'", "value": "#7a7a7a"}, {"test": "datum.k == 'mid'", "value": "#4a4a4a"}], "value": "#333333"}}}
]
},
{
"width": 868, "height": 201,
"layer": [
{"data": {"name": "upper"}, "mark": {"type": "line", "strokeWidth": 4, "interpolate": "monotone"},
 "encoding": {"x": {"field": "i", "type": "quantitative", "scale": {"domain": [-0.4331, 46.561], "nice": false, "zero": false}, "axis": {"orient": "bottom", "values": [0, 6, 13, 20, 27, 34, 41], "labelExpr": "datum.value == 0 ? '03月20日' : datum.value == 6 ? '14:00' : datum.value == 13 ? '11:30' : datum.value == 20 ? '10:30' : datum.value == 27 ? '15:00' : datum.value == 34 ? '14:00' : '11:30'", "tickColor": {"condition": {"test": "datum.value == 0", "value": "transparent"}, "value": "#c8c8c8"}, "title": null}},
  "y": {"field": "v", "type": "quantitative", "scale": {"domain": [3701.8, 4432.7], "nice": false, "zero": false}, "axis": {"orient": "right", "values": [3800, 3900, 4000, 4100, 4200], "format": "d", "labelExpr": "datum.value % 200 == 0 ? datum.label : ''", "gridOpacity": {"condition": {"test": "datum.value % 200 != 0", "value": 0}, "value": 1}, "title": null}},
  "color": {"field": "c", "type": "nominal", "scale": {"domain": ["m", "g"], "range": ["#ff00ff", "#1ee61e"]}, "legend": null},
  "detail": {"field": "s"}}},
{"data": {"name": "lower"}, "mark": {"type": "line", "strokeWidth": 4, "interpolate": "monotone"},
 "encoding": {"x": {"field": "i", "type": "quantitative", "scale": {"domain": [-0.4331, 46.561], "nice": false, "zero": false}, "axis": {"orient": "bottom", "values": [0, 6, 13, 20, 27, 34, 41], "labelExpr": "datum.value == 0 ? '03月20日' : datum.value == 6 ? '14:00' : datum.value == 13 ? '11:30' : datum.value == 20 ? '10:30' : datum.value == 27 ? '15:00' : datum.value == 34 ? '14:00' : '11:30'", "tickColor": {"condition": {"test": "datum.value == 0", "value": "transparent"}, "value": "#c8c8c8"}, "title": null}},
  "y": {"field": "v", "type": "quantitative", "scale": {"domain": [3701.8, 4432.7], "nice": false, "zero": false}, "axis": {"orient": "right", "values": [3800, 3900, 4000, 4100, 4200], "format": "d", "labelExpr": "datum.value % 200 == 0 ? datum.label : ''", "gridOpacity": {"condition": {"test": "datum.value % 200 != 0", "value": 0}, "value": 1}, "title": null}},
  "color": {"field": "c", "type": "nominal", "scale": {"domain": ["m", "g"], "range": ["#ff00ff", "#1ee61e"]}, "legend": null},
  "detail": {"field": "s"}}},
{"data": {"name": "ribbon"}, "mark": {"type": "area", "color": "#527a41", "opacity": 1, "interpolate": "monotone"},
 "encoding": {"x": {"field": "i", "type": "quantitative", "scale": {"domain": [-0.4331, 46.561], "nice": false, "zero": false}, "axis": {"orient": "bottom", "values": [0, 6, 13, 20, 27, 34, 41], "labelExpr": "datum.value == 0 ? '03月20日' : datum.value == 6 ? '14:00' : datum.value == 13 ? '11:30' : datum.value == 20 ? '10:30' : datum.value == 27 ? '15:00' : datum.value == 34 ? '14:00' : '11:30'", "tickColor": {"condition": {"test": "datum.value == 0", "value": "transparent"}, "value": "#c8c8c8"}, "title": null}},
  "y": {"field": "hi", "type": "quantitative", "scale": {"domain": [3701.8, 4432.7], "nice": false, "zero": false}, "axis": {"orient": "right", "values": [3800, 3900, 4000, 4100, 4200], "format": "d", "labelExpr": "datum.value % 200 == 0 ? datum.label : ''", "gridOpacity": {"condition": {"test": "datum.value % 200 != 0", "value": 0}, "value": 1}, "title": null}}, "y2": {"field": "lo"}}},
{"data": {"name": "mid"}, "mark": {"type": "line", "color": "#22dd22", "strokeWidth": 3, "strokeDash": [12, 8], "interpolate": "monotone"},
 "encoding": {"x": {"field": "i", "type": "quantitative", "scale": {"domain": [-0.4331, 46.561], "nice": false, "zero": false}, "axis": {"orient": "bottom", "values": [0, 6, 13, 20, 27, 34, 41], "labelExpr": "datum.value == 0 ? '03月20日' : datum.value == 6 ? '14:00' : datum.value == 13 ? '11:30' : datum.value == 20 ? '10:30' : datum.value == 27 ? '15:00' : datum.value == 34 ? '14:00' : '11:30'", "tickColor": {"condition": {"test": "datum.value == 0", "value": "transparent"}, "value": "#c8c8c8"}, "title": null}},
  "y": {"field": "v", "type": "quantitative", "scale": {"domain": [3701.8, 4432.7], "nice": false, "zero": false}, "axis": {"orient": "right", "values": [3800, 3900, 4000, 4100, 4200], "format": "d", "labelExpr": "datum.value % 200 == 0 ? datum.label : ''", "gridOpacity": {"condition": {"test": "datum.value % 200 != 0", "value": 0}, "value": 1}, "title": null}}}},
{"data": {"values": [{"i": 17, "i2": 25, "v": 3916.4, "k": "dg"}, {"i": 33.0, "i2": 34.4, "v": 3916.4, "k": "dr"}, {"i": 34.65, "i2": 36.4, "v": 3914.5, "k": "dr"}, {"i": 41, "i2": 41.4, "v": 3920.0, "k": "dg"}, {"i": 42.1, "i2": 43.3, "v": 3911.0, "k": "dg"}]},
 "mark": {"type": "rule", "strokeWidth": 1.6},
 "encoding": {"x": {"field": "i", "type": "quantitative", "scale": {"domain": [-0.4331, 46.561], "nice": false, "zero": false}, "axis": {"orient": "bottom", "values": [0, 6, 13, 20, 27, 34, 41], "labelExpr": "datum.value == 0 ? '03月20日' : datum.value == 6 ? '14:00' : datum.value == 13 ? '11:30' : datum.value == 20 ? '10:30' : datum.value == 27 ? '15:00' : datum.value == 34 ? '14:00' : '11:30'", "tickColor": {"condition": {"test": "datum.value == 0", "value": "transparent"}, "value": "#c8c8c8"}, "title": null}}, "x2": {"field": "i2"},
  "y": {"field": "v", "type": "quantitative", "scale": {"domain": [3701.8, 4432.7], "nice": false, "zero": false}, "axis": {"orient": "right", "values": [3800, 3900, 4000, 4100, 4200], "format": "d", "labelExpr": "datum.value % 200 == 0 ? datum.label : ''", "gridOpacity": {"condition": {"test": "datum.value % 200 != 0", "value": 0}, "value": 1}, "title": null}},
  "color": {"condition": {"test": "datum.k == 'dr'", "value": "#b03050"}, "value": "#4f7a3f"}}},
{"data": {"name": "candles"}, "mark": {"type": "rule", "strokeWidth": 2},
 "encoding": {"x": {"field": "i", "type": "quantitative", "scale": {"domain": [-0.4331, 46.561], "nice": false, "zero": false}, "axis": {"orient": "bottom", "values": [0, 6, 13, 20, 27, 34, 41], "labelExpr": "datum.value == 0 ? '03月20日' : datum.value == 6 ? '14:00' : datum.value == 13 ? '11:30' : datum.value == 20 ? '10:30' : datum.value == 27 ? '15:00' : datum.value == 34 ? '14:00' : '11:30'", "tickColor": {"condition": {"test": "datum.value == 0", "value": "transparent"}, "value": "#c8c8c8"}, "title": null}},
  "y": {"field": "l", "type": "quantitative", "scale": {"domain": [3701.8, 4432.7], "nice": false, "zero": false}, "axis": {"orient": "right", "values": [3800, 3900, 4000, 4100, 4200], "format": "d", "labelExpr": "datum.value % 200 == 0 ? datum.label : ''", "gridOpacity": {"condition": {"test": "datum.value % 200 != 0", "value": 0}, "value": 1}, "title": null}}, "y2": {"field": "h"},
  "color": {"condition": {"test": "datum.c < datum.o", "value": "#3c783c"}, "value": "#ff1a1a"}}},
{"data": {"name": "candles"}, "mark": {"type": "bar", "size": 14, "strokeWidth": 2},
 "encoding": {"x": {"field": "i", "type": "quantitative", "scale": {"domain": [-0.4331, 46.561], "nice": false, "zero": false}, "axis": {"orient": "bottom", "values": [0, 6, 13, 20, 27, 34, 41], "labelExpr": "datum.value == 0 ? '03月20日' : datum.value == 6 ? '14:00' : datum.value == 13 ? '11:30' : datum.value == 20 ? '10:30' : datum.value == 27 ? '15:00' : datum.value == 34 ? '14:00' : '11:30'", "tickColor": {"condition": {"test": "datum.value == 0", "value": "transparent"}, "value": "#c8c8c8"}, "title": null}},
  "y": {"field": "o", "type": "quantitative", "scale": {"domain": [3701.8, 4432.7], "nice": false, "zero": false}, "axis": {"orient": "right", "values": [3800, 3900, 4000, 4100, 4200], "format": "d", "labelExpr": "datum.value % 200 == 0 ? datum.label : ''", "gridOpacity": {"condition": {"test": "datum.value % 200 != 0", "value": 0}, "value": 1}, "title": null}}, "y2": {"field": "c"},
  "fill": {"condition": {"test": "datum.c < datum.o", "value": "#20e4ee"}, "value": "#ffffff"},
  "stroke": {"condition": {"test": "datum.c < datum.o", "value": "#20e4ee"}, "value": "#ff1a1a"}}},
{"data": {"name": "minorticks"}, "mark": {"type": "rule", "color": "#c8c8c8", "strokeWidth": 1.5},
 "encoding": {"x": {"field": "i", "type": "quantitative", "scale": {"domain": [-0.4331, 46.561], "nice": false, "zero": false}, "axis": {"orient": "bottom", "values": [0, 6, 13, 20, 27, 34, 41], "labelExpr": "datum.value == 0 ? '03月20日' : datum.value == 6 ? '14:00' : datum.value == 13 ? '11:30' : datum.value == 20 ? '10:30' : datum.value == 27 ? '15:00' : datum.value == 34 ? '14:00' : '11:30'", "tickColor": {"condition": {"test": "datum.value == 0", "value": "transparent"}, "value": "#c8c8c8"}, "title": null}},
  "y": {"datum": 3701.8, "type": "quantitative", "scale": {"domain": [3701.8, 4432.7], "nice": false, "zero": false}, "axis": {"orient": "right", "values": [3800, 3900, 4000, 4100, 4200], "format": "d", "labelExpr": "datum.value % 200 == 0 ? datum.label : ''", "gridOpacity": {"condition": {"test": "datum.value % 200 != 0", "value": 0}, "value": 1}, "title": null}},
  "y2": {"datum": 3684.0}}},
{"data": {"values": [{"i": 46.02, "v": 3778.2, "i2": 43.04, "v2": 3825.5}]}, "mark": {"type": "rule", "color": "#1010ff", "strokeWidth": 2},
 "encoding": {"x": {"field": "i", "type": "quantitative", "scale": {"domain": [-0.4331, 46.561], "nice": false, "zero": false}, "axis": {"orient": "bottom", "values": [0, 6, 13, 20, 27, 34, 41], "labelExpr": "datum.value == 0 ? '03月20日' : datum.value == 6 ? '14:00' : datum.value == 13 ? '11:30' : datum.value == 20 ? '10:30' : datum.value == 27 ? '15:00' : datum.value == 34 ? '14:00' : '11:30'", "tickColor": {"condition": {"test": "datum.value == 0", "value": "transparent"}, "value": "#c8c8c8"}, "title": null}}, "x2": {"field": "i2"},
  "y": {"field": "v", "type": "quantitative", "scale": {"domain": [3701.8, 4432.7], "nice": false, "zero": false}, "axis": {"orient": "right", "values": [3800, 3900, 4000, 4100, 4200], "format": "d", "labelExpr": "datum.value % 200 == 0 ? datum.label : ''", "gridOpacity": {"condition": {"test": "datum.value % 200 != 0", "value": 0}, "value": 1}, "title": null}}, "y2": {"field": "v2"}}},
{"data": {"values": [{"i": 43.04, "v": 3825.5}]}, "mark": {"type": "point", "shape": "M0,0 L0.8,2 L-0.8,2 Z", "size": 100, "filled": true, "color": "#1010ff", "angle": 283.3, "opacity": 1},
 "encoding": {"x": {"field": "i", "type": "quantitative", "scale": {"domain": [-0.4331, 46.561], "nice": false, "zero": false}, "axis": {"orient": "bottom", "values": [0, 6, 13, 20, 27, 34, 41], "labelExpr": "datum.value == 0 ? '03月20日' : datum.value == 6 ? '14:00' : datum.value == 13 ? '11:30' : datum.value == 20 ? '10:30' : datum.value == 27 ? '15:00' : datum.value == 34 ? '14:00' : '11:30'", "tickColor": {"condition": {"test": "datum.value == 0", "value": "transparent"}, "value": "#c8c8c8"}, "title": null}},
  "y": {"field": "v", "type": "quantitative", "scale": {"domain": [3701.8, 4432.7], "nice": false, "zero": false}, "axis": {"orient": "right", "values": [3800, 3900, 4000, 4100, 4200], "format": "d", "labelExpr": "datum.value % 200 == 0 ? datum.label : ''", "gridOpacity": {"condition": {"test": "datum.value % 200 != 0", "value": 0}, "value": 1}, "title": null}}}},
{"data": {"values": [{"i": 42.72, "i2": 47.48, "v": 3785.5, "v2": 3680.0}]}, "mark": {"type": "rect", "fill": "#ffff00"},
 "encoding": {"x": {"field": "i", "type": "quantitative", "scale": {"domain": [-0.4331, 46.561], "nice": false, "zero": false}, "axis": {"orient": "bottom", "values": [0, 6, 13, 20, 27, 34, 41], "labelExpr": "datum.value == 0 ? '03月20日' : datum.value == 6 ? '14:00' : datum.value == 13 ? '11:30' : datum.value == 20 ? '10:30' : datum.value == 27 ? '15:00' : datum.value == 34 ? '14:00' : '11:30'", "tickColor": {"condition": {"test": "datum.value == 0", "value": "transparent"}, "value": "#c8c8c8"}, "title": null}}, "x2": {"field": "i2"},
  "y": {"field": "v", "type": "quantitative", "scale": {"domain": [3701.8, 4432.7], "nice": false, "zero": false}, "axis": {"orient": "right", "values": [3800, 3900, 4000, 4100, 4200], "format": "d", "labelExpr": "datum.value % 200 == 0 ? datum.label : ''", "gridOpacity": {"condition": {"test": "datum.value % 200 != 0", "value": 0}, "value": 1}, "title": null}}, "y2": {"field": "v2"}}},
{"data": {"values": [{"i": 44.94, "v": 3734.6, "t": "下轨支撑"}]}, "mark": {"type": "text", "align": "center", "baseline": "middle", "fontSize": 19, "fontWeight": "bold", "color": "#1010ff", "font": "Noto Sans CJK SC"},
 "encoding": {"x": {"field": "i", "type": "quantitative", "scale": {"domain": [-0.4331, 46.561], "nice": false, "zero": false}, "axis": {"orient": "bottom", "values": [0, 6, 13, 20, 27, 34, 41], "labelExpr": "datum.value == 0 ? '03月20日' : datum.value == 6 ? '14:00' : datum.value == 13 ? '11:30' : datum.value == 20 ? '10:30' : datum.value == 27 ? '15:00' : datum.value == 34 ? '14:00' : '11:30'", "tickColor": {"condition": {"test": "datum.value == 0", "value": "transparent"}, "value": "#c8c8c8"}, "title": null}},
  "y": {"field": "v", "type": "quantitative", "scale": {"domain": [3701.8, 4432.7], "nice": false, "zero": false}, "axis": {"orient": "right", "values": [3800, 3900, 4000, 4100, 4200], "format": "d", "labelExpr": "datum.value % 200 == 0 ? datum.label : ''", "gridOpacity": {"condition": {"test": "datum.value % 200 != 0", "value": 0}, "value": 1}, "title": null}}, "text": {"field": "t"}}},
{"data": {"values": [{"i": 46.56, "i2": 51.27, "v": 3698.2, "v2": 3604.5}]}, "mark": {"type": "rect", "fill": "#ffffff", "stroke": "#c4c4c4", "strokeWidth": 1.5},
 "encoding": {"x": {"field": "i", "type": "quantitative", "scale": {"domain": [-0.4331, 46.561], "nice": false, "zero": false}, "axis": {"orient": "bottom", "values": [0, 6, 13, 20, 27, 34, 41], "labelExpr": "datum.value == 0 ? '03月20日' : datum.value == 6 ? '14:00' : datum.value == 13 ? '11:30' : datum.value == 20 ? '10:30' : datum.value == 27 ? '15:00' : datum.value == 34 ? '14:00' : '11:30'", "tickColor": {"condition": {"test": "datum.value == 0", "value": "transparent"}, "value": "#c8c8c8"}, "title": null}}, "x2": {"field": "i2"},
  "y": {"field": "v", "type": "quantitative", "scale": {"domain": [3701.8, 4432.7], "nice": false, "zero": false}, "axis": {"orient": "right", "values": [3800, 3900, 4000, 4100, 4200], "format": "d", "labelExpr": "datum.value % 200 == 0 ? datum.label : ''", "gridOpacity": {"condition": {"test": "datum.value % 200 != 0", "value": 0}, "value": 1}, "title": null}}, "y2": {"field": "v2"}}},
{"data": {"values": [{"i": 48.94, "v": 3650.9, "t": "60分钟"}]}, "mark": {"type": "text", "align": "center", "baseline": "middle", "fontSize": 20, "color": "#333333", "font": "Noto Sans CJK SC"},
 "encoding": {"x": {"field": "i", "type": "quantitative", "scale": {"domain": [-0.4331, 46.561], "nice": false, "zero": false}, "axis": {"orient": "bottom", "values": [0, 6, 13, 20, 27, 34, 41], "labelExpr": "datum.value == 0 ? '03月20日' : datum.value == 6 ? '14:00' : datum.value == 13 ? '11:30' : datum.value == 20 ? '10:30' : datum.value == 27 ? '15:00' : datum.value == 34 ? '14:00' : '11:30'", "tickColor": {"condition": {"test": "datum.value == 0", "value": "transparent"}, "value": "#c8c8c8"}, "title": null}},
  "y": {"field": "v", "type": "quantitative", "scale": {"domain": [3701.8, 4432.7], "nice": false, "zero": false}, "axis": {"orient": "right", "values": [3800, 3900, 4000, 4100, 4200], "format": "d", "labelExpr": "datum.value % 200 == 0 ? datum.label : ''", "gridOpacity": {"condition": {"test": "datum.value % 200 != 0", "value": 0}, "value": 1}, "title": null}}, "text": {"field": "t"}}},
{"data": {"values": [{"i": 0.22, "v": 4381.8}]}, "mark": {"type": "point", "shape": "circle", "size": 270, "filled": true, "color": "#6e6e6e", "opacity": 1},
 "encoding": {"x": {"field": "i", "type": "quantitative", "scale": {"domain": [-0.4331, 46.561], "nice": false, "zero": false}, "axis": {"orient": "bottom", "values": [0, 6, 13, 20, 27, 34, 41], "labelExpr": "datum.value == 0 ? '03月20日' : datum.value == 6 ? '14:00' : datum.value == 13 ? '11:30' : datum.value == 20 ? '10:30' : datum.value == 27 ? '15:00' : datum.value == 34 ? '14:00' : '11:30'", "tickColor": {"condition": {"test": "datum.value == 0", "value": "transparent"}, "value": "#c8c8c8"}, "title": null}},
  "y": {"field": "v", "type": "quantitative", "scale": {"domain": [3701.8, 4432.7], "nice": false, "zero": false}, "axis": {"orient": "right", "values": [3800, 3900, 4000, 4100, 4200], "format": "d", "labelExpr": "datum.value % 200 == 0 ? datum.label : ''", "gridOpacity": {"condition": {"test": "datum.value % 200 != 0", "value": 0}, "value": 1}, "title": null}}}},
{"data": {"values": [{"i": 0.22, "v": 4381.8}]}, "mark": {"type": "point", "shape": "M-0.45,-0.15 L0,0.3 L0.45,-0.15", "size": 270, "filled": false, "color": "#ffffff", "strokeWidth": 2, "opacity": 1},
 "encoding": {"x": {"field": "i", "type": "quantitative", "scale": {"domain": [-0.4331, 46.561], "nice": false, "zero": false}, "axis": {"orient": "bottom", "values": [0, 6, 13, 20, 27, 34, 41], "labelExpr": "datum.value == 0 ? '03月20日' : datum.value == 6 ? '14:00' : datum.value == 13 ? '11:30' : datum.value == 20 ? '10:30' : datum.value == 27 ? '15:00' : datum.value == 34 ? '14:00' : '11:30'", "tickColor": {"condition": {"test": "datum.value == 0", "value": "transparent"}, "value": "#c8c8c8"}, "title": null}},
  "y": {"field": "v", "type": "quantitative", "scale": {"domain": [3701.8, 4432.7], "nice": false, "zero": false}, "axis": {"orient": "right", "values": [3800, 3900, 4000, 4100, 4200], "format": "d", "labelExpr": "datum.value % 200 == 0 ? datum.label : ''", "gridOpacity": {"condition": {"test": "datum.value % 200 != 0", "value": 0}, "value": 1}, "title": null}}}},
{"data": {"values": [
  {"i": 1.30, "v": 4381.8, "t": "布林通道(1) 郑国荣&版权所有: 3909.98", "k": "dark"},
  {"i": 21.66, "v": 4381.8, "t": "↓", "k": "arrow"},
  {"i": 22.96, "v": 4381.8, "t": "中位线: 3901.07", "k": "red"},
  {"i": 31.35, "v": 4381.8, "t": "↓", "k": "arrow"},
  {"i": 44.56, "v": 4381.8, "t": "↓", "k": "arrow"},
  {"i": 45.86, "v": 4381.8, "t": "阻", "k": "lime"}
 ]},
 "mark": {"type": "text", "align": "left", "baseline": "middle", "fontSize": 21, "font": "Noto Sans CJK SC", "clip": true},
 "encoding": {"x": {"field": "i", "type": "quantitative", "scale": {"domain": [-0.4331, 46.561], "nice": false, "zero": false}, "axis": {"orient": "bottom", "values": [0, 6, 13, 20, 27, 34, 41], "labelExpr": "datum.value == 0 ? '03月20日' : datum.value == 6 ? '14:00' : datum.value == 13 ? '11:30' : datum.value == 20 ? '10:30' : datum.value == 27 ? '15:00' : datum.value == 34 ? '14:00' : '11:30'", "tickColor": {"condition": {"test": "datum.value == 0", "value": "transparent"}, "value": "#c8c8c8"}, "title": null}},
  "y": {"field": "v", "type": "quantitative", "scale": {"domain": [3701.8, 4432.7], "nice": false, "zero": false}, "axis": {"orient": "right", "values": [3800, 3900, 4000, 4100, 4200], "format": "d", "labelExpr": "datum.value % 200 == 0 ? datum.label : ''", "gridOpacity": {"condition": {"test": "datum.value % 200 != 0", "value": 0}, "value": 1}, "title": null}},
  "text": {"field": "t"},
  "color": {"condition": [{"test": "datum.k == 'red'", "value": "#ff3535"}, {"test": "datum.k == 'arrow'", "value": "#2e8b2e"}, {"test": "datum.k == 'lime'", "value": "#22ee22"}], "value": "#333333"}}}
]
}
]
}
